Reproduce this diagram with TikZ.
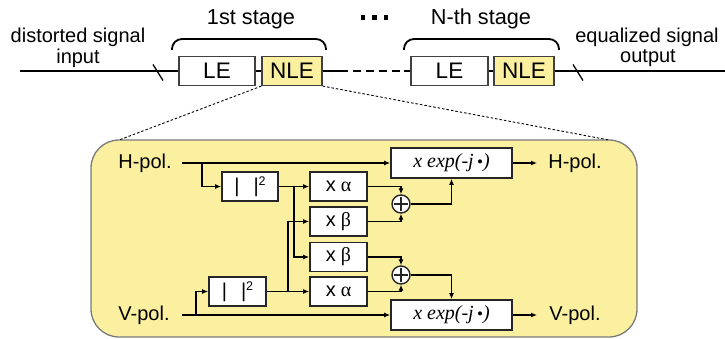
\documentclass[tikz,border=0pt]{standalone}
\usepackage{fontspec}
\setmainfont{Liberation Sans}
\newfontfamily\serf{Liberation Serif}
\usetikzlibrary{arrows.meta,calc}
\definecolor{yel}{HTML}{FAF0A0}
\definecolor{bord}{HTML}{7A7A7A}
\begin{document}
\begin{tikzpicture}[x=1pt,y=-1pt,
  lbl/.style={font=\fontsize{20}{22}\selectfont, inner sep=0pt, align=center},
  stg/.style={font=\fontsize{21.7}{24}\selectfont, inner sep=0pt},
  topbox/.style={draw=black!75, line width=1.2pt, minimum height=29pt, inner sep=0pt, font=\fontsize{22.5}{24}\selectfont},
  blk/.style={draw=black!85, line width=1.6pt, fill=white, minimum height=29pt, minimum width=57pt, inner sep=0pt, font=\fontsize{20}{22}\selectfont},
  main/.style={line width=1.3pt},
  arr/.style={line width=1.4pt, -{Latex[length=6pt,width=5pt]}},
  brace/.style={line width=1.8pt, rounded corners=10pt},
  sum/.style={circle, draw=black!85, line width=1.4pt, fill=white, minimum size=18pt, inner sep=0pt,
    path picture={\draw[line width=1.4pt] ([xshift=-7pt]path picture bounding box.center) -- ([xshift=7pt]path picture bounding box.center) ([yshift=-7pt]path picture bounding box.center) -- ([yshift=7pt]path picture bounding box.center);}},
  dotl/.style={line width=0.9pt, dash pattern=on 2.5pt off 2pt},
  expf/.style={font=\fontsize{20}{22}\serf\itshape},
]
\useasboundingbox (0,0) rectangle (725,339);

% ---------- top chain ----------
\node[topbox, minimum width=76pt] (le1) at (217,71) {LE};
\node[topbox, minimum width=60pt, fill=yel] (nle1) at (292,71) {NLE};
\node[topbox, minimum width=77pt] (le2) at (449.5,71) {LE};
\node[topbox, minimum width=60pt, fill=yel] (nle2) at (524,71) {NLE};
\coordinate (in) at (20,71);
\coordinate (out) at (725,71);
\coordinate (d1) at (340,71);
\coordinate (d2) at (404,71);
\draw[main] (in) -- (le1);
\draw[main] (le1) -- (nle1);
\draw[main] (nle1) -- (d1);
\draw[main, dash pattern=on 8pt off 5pt] (d1) -- (d2);
\draw[main] (d2) -- (le2);
\draw[main] (le2) -- (nle2);
\draw[main] (nle2) -- (out);
\coordinate (s1) at (158,72.5);
\coordinate (s2) at (578,72.5);
\draw[main] ($(s1)+(-5,-8)$) -- ($(s1)+(5,8)$);
\draw[main] ($(s2)+(-5,-8)$) -- ($(s2)+(5,8)$);

\node[lbl] (lin1) at (78,37) {distorted signal};
\node[lbl] (lin2) at (78,58) {input};
\node[lbl] (lout1) at (647,37) {equalized signal};
\node[lbl] (lout2) at (648,58) {output};

\draw[brace] (172,50) -- (172,39) -- (326,39) -- (326,50);
\draw[brace] (404,50) -- (404,39) -- (559,39) -- (559,50);
\node[stg] (st1) at (251,19) {1st stage};
\node[stg] (stn) at (481,19) {N-th stage};
\foreach \x in {363,374.5,386} \fill (\x-2.3,15.2) rectangle (\x+2.3,19.8);

% ---------- inset ----------
\draw[draw=bord, line width=1.3pt, fill=yel, rounded corners=28pt] (91,140) rectangle (637,337);
\coordinate (c1) at (119,140);
\coordinate (c2) at (609,140);
\draw[dotl] (nle1.south west) -- (c1);
\draw[dotl] (nle1.south east) -- (c2);

\node[lbl] (hl) at (145,163) {H-pol.};
\node[lbl] (vl) at (144,315) {V-pol.};
\coordinate (hin) at (182,163);
\coordinate (vin) at (182,315);

\node[blk, minimum width=121pt, minimum height=30pt, expf] (eh) at (451.5,163) {x exp(-j\,{\upshape\fontsize{17}{17}\selectfont\textbullet})};
\node[blk, minimum width=121pt, minimum height=30pt, expf] (ev) at (451.5,315) {x exp(-j\,{\upshape\fontsize{17}{17}\selectfont\textbullet})};

\node[blk, minimum width=56pt] (sqh) at (250,186.5) {|\hspace{14pt}|\raisebox{7pt}{\fontsize{12.5}{12.5}\selectfont 2}};
\node[blk, minimum width=57pt] (sqv) at (237.5,291.5) {|\hspace{14pt}|\raisebox{7pt}{\fontsize{12.5}{12.5}\selectfont 2}};

\node[blk] (a1) at (338.5,186.5) {x\hspace{5pt}{\serf α}};
\node[blk] (b1) at (338.5,221.5) {x\hspace{5pt}{\serf β}};
\node[blk] (b2) at (338.5,257) {x\hspace{5pt}{\serf β}};
\node[blk] (a2) at (338.5,291.5) {x\hspace{5pt}{\serf α}};

\node[sum] (p1) at (401,204) {};
\node[sum] (p2) at (401,275) {};

\coordinate (hb) at (202,163);
\coordinate (vb) at (196,315);
\coordinate (hs) at (294,186.5);
\coordinate (vs) at (288,291.5);
\coordinate (ho) at (537,163);
\coordinate (vo) at (537,315);
\node[lbl] (hr) at (575,163) {H-pol.};
\node[lbl] (vr) at (575,315) {V-pol.};

\draw[arr] (hin) -- (eh.west);
\draw[arr] (hb) |- (sqh.west);
\draw[arr] (vin) -- (ev.west);
\draw[arr] (vb) |- (sqv.west);
\draw[arr] (sqh.east) -- (a1.west);
\draw[arr] (hs) |- (b2.west);
\draw[arr] (sqv.east) -- (a2.west);
\draw[arr] (vs) |- (b1.west);
\draw[arr] (a1.east) -| (p1.north);
\draw[arr] (b1.east) -| (p1.south);
\draw[arr] (b2.east) -| (p2.north);
\draw[arr] (a2.east) -| (p2.south);
\draw[arr] (p1.east) -| (eh.south);
\draw[arr] (p2.east) -| (ev.north);
\draw[arr] (eh.east) -- (ho);
\draw[arr] (ev.east) -- (vo);
\end{tikzpicture}
\end{document}
